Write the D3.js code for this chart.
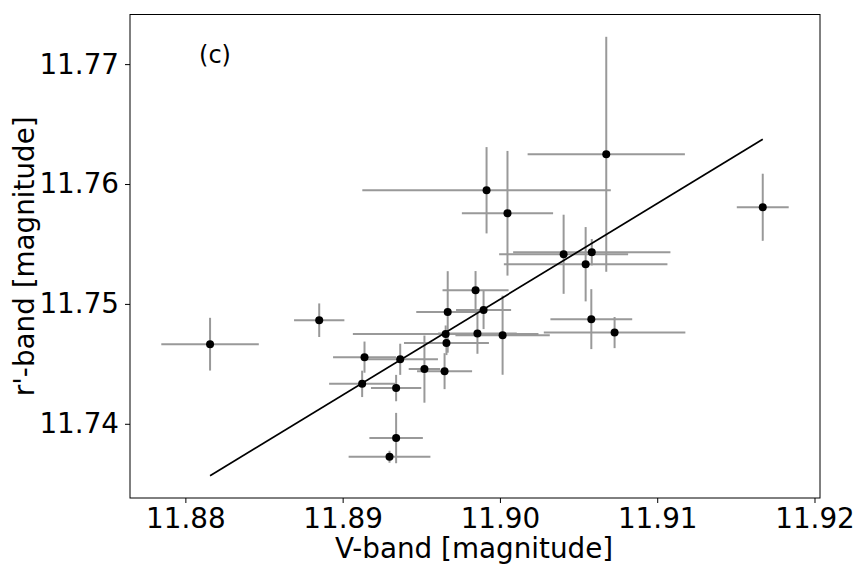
<!DOCTYPE html>
<html>
<head>
<meta charset="utf-8">
<script src="https://cdn.jsdelivr.net/npm/d3@7"></script>
<style>
  html, body { margin: 0; padding: 0; background: #fff; }
  svg { display: block; }
  text { font-family: "DejaVu Sans", sans-serif; fill: #000; }
</style>
</head>
<body>
<script>
// ---- data ----
const vBand  = [11.88157, 11.88851, 11.89139, 11.89366, 11.89124, 11.89340, 11.89520, 11.89648, 11.89660,
                11.89655, 11.89668, 11.89845, 11.89896, 11.89857, 11.90017, 11.89915, 11.90048, 11.90676,
                11.91671, 11.90405, 11.90584, 11.90545, 11.90581, 11.90729, 11.89340, 11.89298];
const rBand  = [11.74664, 11.74864, 11.74556, 11.74538, 11.74333, 11.74298, 11.74456, 11.74439, 11.74673,
                11.74750, 11.74933, 11.75114, 11.74950, 11.74754, 11.74739, 11.75948, 11.75756, 11.76248,
                11.75806, 11.75414, 11.75431, 11.75331, 11.74873, 11.74761, 11.73881, 11.73725];
const vErr   = [0.0031, 0.0016, 0.0020, 0.0024, 0.0021, 0.0016, 0.0010, 0.00175, 0.0027,
                0.0059, 0.0020, 0.0021, 0.00175, 0.0025, 0.0030, 0.0079, 0.0029, 0.0050,
                0.00165, 0.0041, 0.0050, 0.0052, 0.0026, 0.0045, 0.0017, 0.0026];
const rErr   = [0.0022, 0.0014, 0.0013, 0.0013, 0.0011, 0.0011, 0.0028, 0.0015, 0.0010,
                0.0007, 0.0034, 0.0016, 0.0016, 0.0017, 0.0033, 0.0036, 0.0052, 0.0098,
                0.0028, 0.0033, 0.0011, 0.0031, 0.0025, 0.0013, 0.0021, 0.0005];
const fitX   = [11.88157, 11.91671];
const fitY   = [11.73567, 11.76373];
const xTicks = [11.88, 11.89, 11.90, 11.91, 11.92];
const yTicks = [11.74, 11.75, 11.76, 11.77];
const xLabel = "V-band [magnitude]";
const yLabel = "r'-band [magnitude]";
const panelLabel = "(c)";

// ---- layout ----
const W = 864, H = 576;
const mLeft = 130, mRight = 820, mTop = 14.5, mBottom = 498;

const x = d3.scaleLinear().domain([11.87648, 11.92035]).range([mLeft, mRight]);
const y = d3.scaleLinear().domain([11.73381, 11.77414]).range([mBottom, mTop]);

const svg = d3.select("body").append("svg").attr("width", W).attr("height", H);
svg.append("rect").attr("width", W).attr("height", H).attr("fill", "#fff");

const pts = vBand.map((v, i) => ({ v, r: rBand[i], ve: vErr[i], re: rErr[i] }));

const g = svg.append("g");
// error bars
const eb = g.append("g").attr("stroke", "#999999").attr("stroke-width", 2);
eb.selectAll("line.h").data(pts).enter().append("line").attr("class", "h")
  .attr("x1", d => x(d.v - d.ve)).attr("x2", d => x(d.v + d.ve))
  .attr("y1", d => y(d.r)).attr("y2", d => y(d.r));
eb.selectAll("line.v").data(pts).enter().append("line").attr("class", "v")
  .attr("x1", d => x(d.v)).attr("x2", d => x(d.v))
  .attr("y1", d => y(d.r - d.re)).attr("y2", d => y(d.r + d.re));

// fit line
g.append("line")
  .attr("x1", x(fitX[0])).attr("y1", y(fitY[0]))
  .attr("x2", x(fitX[1])).attr("y2", y(fitY[1]))
  .attr("stroke", "#000").attr("stroke-width", 1.7);

// markers
g.selectAll("circle").data(pts).enter().append("circle")
  .attr("cx", d => x(d.v)).attr("cy", d => y(d.r)).attr("r", 4)
  .attr("fill", "#000");

// axes
const xAxis = d3.axisBottom(x).tickValues(xTicks).tickFormat(d3.format(".2f")).tickSizeOuter(0).tickSize(5).tickPadding(5);
const yAxis = d3.axisLeft(y).tickValues(yTicks).tickFormat(d3.format(".2f")).tickSizeOuter(0).tickSize(5).tickPadding(6);

const gx = svg.append("g").attr("transform", `translate(0,${mBottom})`).call(xAxis);
const gy = svg.append("g").attr("transform", `translate(${mLeft},0)`).call(yAxis);
[gx, gy].forEach(a => {
  a.select(".domain").remove();
  a.selectAll(".tick line").attr("stroke", "#000").attr("stroke-width", 1);
  a.selectAll(".tick text").style("font-size", "27.8px").style("font-family", "DejaVu Sans");
});

// frame
svg.append("rect").attr("x", mLeft).attr("y", mTop)
  .attr("width", mRight - mLeft).attr("height", mBottom - mTop)
  .attr("fill", "none").attr("stroke", "#000").attr("stroke-width", 1);

// labels
svg.append("text").attr("x", (mLeft + mRight) / 2 - 1).attr("y", 558)
  .attr("text-anchor", "middle").style("font-size", "27.8px").text(xLabel);
svg.append("text").attr("transform", `translate(34,${(mTop + mBottom) / 2}) rotate(-90)`)
  .attr("text-anchor", "middle").style("font-size", "27.8px").text(yLabel);
svg.append("text").attr("x", 215).attr("y", 63)
  .attr("text-anchor", "middle").style("font-size", "24px").text(panelLabel);
</script>
</body>
</html>
